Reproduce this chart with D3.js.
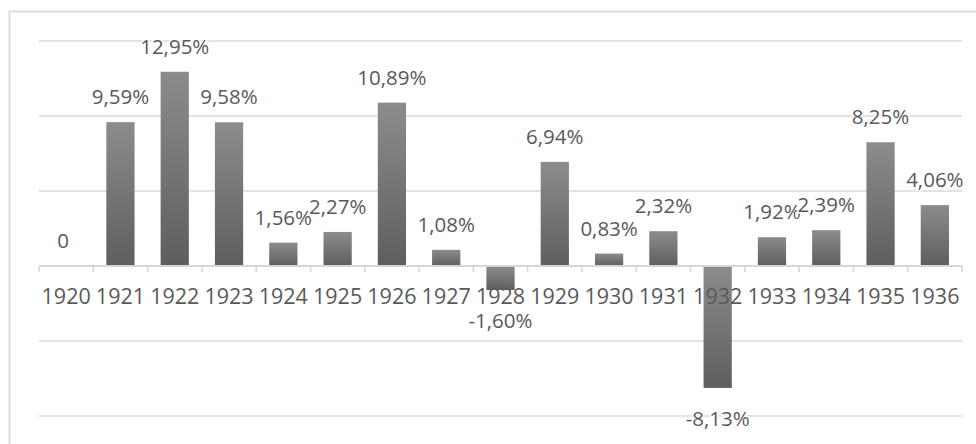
<!DOCTYPE html>
<html>
<head>
<meta charset="utf-8">
<script src="https://cdn.jsdelivr.net/npm/d3@7"></script>
<style>
  html, body { margin: 0; padding: 0; background: #fff; }
  svg { display: block; }
</style>
</head>
<body>
<svg id="chart" width="976" height="444"></svg>
<script>
// Annual change, 1920–1936 (percent)
const years = ["1920","1921","1922","1923","1924","1925","1926","1927","1928",
               "1929","1930","1931","1932","1933","1934","1935","1936"];
const changes = [0, 9.59, 12.95, 9.58, 1.56, 2.27, 10.89, 1.08, -1.60,
                 6.94, 0.83, 2.32, -8.13, 1.92, 2.39, 8.25, 4.06];
const gridValues = [-10, -5, 5, 10, 15];

const W = 976, H = 444;
const plot = { left: 39, right: 962, top: 41, bottom: 416 };
const textColor = "#595959";
const fontFamily = "'Open Sans', 'Noto Sans', sans-serif";

const svg = d3.select("#chart");

// Outer chart frame
svg.append("rect")
  .attr("x", 9.5).attr("y", 11.5)
  .attr("width", W).attr("height", H)
  .attr("fill", "none")
  .attr("stroke", "#dcdcdc")
  .attr("stroke-width", 2);

// Bar gradient: lighter at top, darker at bottom
const defs = svg.append("defs");
const grad = defs.append("linearGradient")
  .attr("id", "barFill")
  .attr("x1", 0).attr("y1", 0).attr("x2", 0).attr("y2", 1);
grad.append("stop").attr("offset", "0%").attr("stop-color", "#8c8c8c");
grad.append("stop").attr("offset", "100%").attr("stop-color", "#5e5e5e");

const x = d3.scaleBand().domain(years).range([plot.left, plot.right]).padding(0);
const y = d3.scaleLinear().domain([-10, 15]).range([plot.bottom, plot.top]);

// Horizontal gridlines
svg.append("g")
  .selectAll("line")
  .data(gridValues)
  .join("line")
  .attr("x1", plot.left).attr("x2", plot.right)
  .attr("y1", d => y(d)).attr("y2", d => y(d))
  .attr("stroke", "#e3e3e3")
  .attr("stroke-width", 2);

const data = years.map((yr, i) => ({ year: yr, value: changes[i] }));
const barW = x.bandwidth() * 0.52;

// Bars
svg.append("g")
  .selectAll("rect")
  .data(data)
  .join("rect")
  .attr("x", d => x(d.year) + (x.bandwidth() - barW) / 2)
  .attr("y", d => y(Math.max(0, d.value)))
  .attr("width", barW)
  .attr("height", d => Math.abs(y(d.value) - y(0)))
  .attr("fill", "url(#barFill)");

// Category axis at zero
const xAxis = d3.axisBottom(x).tickSize(0).tickPadding(0);
const axisG = svg.append("g")
  .attr("transform", `translate(0,${y(0)})`)
  .call(xAxis);
axisG.select(".domain").remove();
axisG.append("line")
  .attr("x1", plot.left).attr("x2", plot.right)
  .attr("y1", 0).attr("y2", 0)
  .attr("stroke", "#d6d6d6")
  .attr("stroke-width", 2);
// tick marks between categories
axisG.append("g")
  .selectAll("line")
  .data(years.concat(["end"]))
  .join("line")
  .attr("x1", (d, i) => plot.left + i * x.step())
  .attr("x2", (d, i) => plot.left + i * x.step())
  .attr("y1", 0).attr("y2", 6)
  .attr("stroke", "#d6d6d6")
  .attr("stroke-width", 1.5);
axisG.selectAll(".tick text")
  .attr("y", 38)
  .attr("dy", 0)
  .attr("fill", textColor)
  .style("font-family", fontFamily)
  .style("font-size", "21.5px");

// Value labels (comma decimal, plain hyphen for negatives)
const fmt = v => v === 0 ? "0" : (v < 0 ? "-" : "") + Math.abs(v).toFixed(2).replace(".", ",") + "%";
svg.append("g")
  .selectAll("text")
  .data(data)
  .join("text")
  .attr("x", d => x(d.year) + x.bandwidth() / 2 - (d.value === 0 ? 3 : 0))
  .attr("y", d => d.value >= 0 ? y(d.value) - 18 : y(d.value) + 38)
  .attr("text-anchor", "middle")
  .attr("fill", textColor)
  .attr("stroke", "#fff")
  .attr("stroke-width", 3)
  .attr("paint-order", "stroke")
  .style("font-family", fontFamily)
  .style("font-size", "20.5px")
  .text(d => fmt(d.value));
</script>
</body>
</html>
